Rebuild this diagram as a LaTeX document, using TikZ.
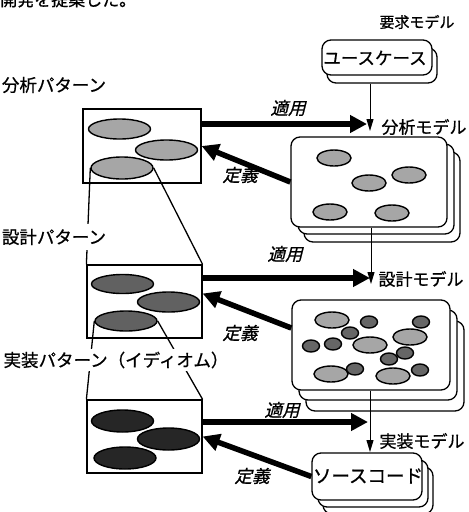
\documentclass[tikz,border=0pt]{standalone}
\usepackage{fontspec}
\newfontfamily\jp[FakeBold=0.8]{Noto Sans CJK JP}
\newfontfamily\jpit[FakeSlant=0.25,FakeBold=0.8]{Noto Sans CJK JP}
\usetikzlibrary{shapes.geometric,arrows.meta,calc}
\begin{document}
\begin{tikzpicture}[x=1pt,y=-1pt,
  pbox/.style={draw, line width=1.2pt, fill=white, inner sep=0pt},
  mbox/.style={draw, fill=white, rounded corners=9pt, line width=1.3pt, inner sep=0pt},
  ov/.style={ellipse, draw, line width=1.4pt, inner sep=0pt},
  pov/.style={ov, minimum width=62pt, minimum height=20pt},
  lt/.style={ov, fill=black!35, minimum width=34pt, minimum height=16pt},
  sm/.style={ov, fill=black!60, minimum width=17pt, minimum height=12pt},
  lbl/.style={font=\jp\fontsize{17}{17}\selectfont, inner sep=1pt},
  plbl/.style={font=\jp\fontsize{17.5}{17.5}\selectfont, fill=white, inner sep=5pt},
  itl/.style={font=\jpit\fontsize{17.5}{17.5}\selectfont, inner sep=1pt},
  fat/.style={line width=5.5pt, -{Triangle[length=17pt,width=17pt]}},
  thinarr/.style={line width=1pt, -{Triangle[length=12pt,width=7pt]}},
  zline/.style={line width=1.3pt}]
\useasboundingbox (0,0) rectangle (469,512);
\clip (0,0) rectangle (469,512);

% top text (cut off at the top edge, as in the reference)
\node[font=\jp\fontsize{17}{17}\selectfont, inner sep=0pt, anchor=base west] (top) at (0,6) {開発を提案した。};

% ---------- right column: models ----------
\node[lbl, font=\jp\fontsize{15}{15}\selectfont] (req) at (417,22) {要求モデル};
\node[mbox, minimum width=110pt, minimum height=35pt] (uc2) at (382,65.5) {};
\node[mbox, minimum width=110pt, minimum height=35pt] (uc) at (377,57.5) {};
\node[lbl, font=\jp\fontsize{17.5}{17.5}\selectfont] (uct) at (375,58) {ユースケース};

\node[lbl] (aml) at (424,127) {分析モデル};
\node[mbox, minimum width=156pt, minimum height=90pt] (am3) at (382,197) {};
\node[mbox, minimum width=156pt, minimum height=90pt] (am2) at (376,189) {};
\node[mbox, minimum width=156pt, minimum height=90pt] (am) at (369,182) {};
\node[lt] (a1) at (334,158) {};
\node[lt] (a2) at (369,183) {};
\node[lt] (a3) at (409,175) {};
\node[lt] (a4) at (330,212) {};
\node[lt] (a5) at (392,213) {};

\node[lbl] (dml) at (421,279) {設計モデル};
\node[mbox, minimum width=158pt, minimum height=90pt] (dm3) at (385,366) {};
\node[mbox, minimum width=158pt, minimum height=90pt] (dm2) at (378,355) {};
\node[mbox, minimum width=158pt, minimum height=90pt] (dm) at (371,345) {};
\node[lt] (d1) at (332,320) {};
\node[lt] (d2) at (410,337) {};
\node[lt] (d3) at (370,345) {};
\node[lt] (d4) at (331,374) {};
\node[lt] (d5) at (393,376) {};
\node[sm] (s1) at (369,322) {};
\node[sm] (s2) at (421,322) {};
\node[sm] (s3) at (350,333) {};
\node[sm] (s4) at (311,346) {};
\node[sm] (s5) at (333,344) {};
\node[sm] (s6) at (405,353) {};
\node[sm] (s7) at (389,359) {};
\node[sm] (s8) at (355,369) {};
\node[sm] (s9) at (420,370) {};

\node[lbl] (iml) at (422,441) {実装モデル};
\node[mbox, minimum width=110pt, minimum height=47pt] (sc3) at (378,490.5) {};
\node[mbox, minimum width=110pt, minimum height=47pt] (sc2) at (373,483.5) {};
\node[mbox, minimum width=110pt, minimum height=47pt] (sc) at (367,476.5) {};
\node[lbl, font=\jp\fontsize{18.5}{18.5}\selectfont] (sct) at (368,476) {ソースコード};

% vertical thin arrows
\coordinate (t1) at (370,131);
\coordinate (t2) at (371,284);
\coordinate (t3) at (370,452);
\draw[thinarr] (uc2.south -| t1) -- (t1);
\draw[thinarr] (am.south -| t2) -- (t2);
\draw[thinarr] (dm.south -| t3) -- (t3);

% ---------- left column: patterns ----------
\node[pbox, minimum width=118pt, minimum height=74pt] (ap) at (142,146) {};
\node[pov, fill=black!35] (p1) at (119.5,129) {};
\node[pov, fill=black!35] (p2) at (166.5,150) {};
\node[pov, fill=black!35, minimum height=22pt] (p3) at (122,168) {};

\node[pbox, minimum width=115pt, minimum height=73pt] (dp) at (144.5,301.5) {};
\node[pov, fill=black!62, minimum height=19pt] (q1) at (122.5,284) {};
\node[pov, fill=black!62] (q2) at (168.5,302) {};
\node[pov, fill=black!62] (q3) at (126,321) {};

\node[pbox, minimum width=115pt, minimum height=73pt] (ip) at (144.5,436.5) {};
\node[pov, fill=black!85, minimum height=22pt] (r1) at (122.5,421) {};
\node[pov, fill=black!85, minimum height=22pt] (r2) at (168.5,439) {};
\node[pov, fill=black!85, minimum height=22pt] (r3) at (125,458) {};

% zoom lines
\draw[zline] (p3.west) -- (dp.north west);
\draw[zline] (p3.east) -- (dp.north east);
\draw[zline] (q3.west) -- (ip.north west);
\draw[zline] (q3.east) -- (ip.north east);

\node[plbl] (apl) at (54,85) {分析パターン};
\node[plbl] (dpl) at (54,237) {設計パターン};
\node[plbl, inner sep=3pt] (ipl) at (116,360) {実装パターン（イディオム）};

% ---------- arrows ----------
\coordinate (f1) at (367,124);
\coordinate (f2) at (370,278);
\coordinate (f3) at (368,422);
\draw[fat] (ap.east |- f1) -- (f1);
\draw[fat] (dp.east |- f2) -- (f2);
\draw[fat] (ip.east |- f3) -- (f3);
\node[itl] (ap1) at (288,108) {適用};
\node[itl] (ap2) at (285,254) {適用};
\node[itl] (ap3) at (282,410) {適用};

\draw[fat] (am.west) -- (ap.east);
\draw[fat] ([yshift=17pt]dm.west) -- ([yshift=8pt]dp.east);
\draw[fat] (sc.west) -- (ip.east);
\node[itl] (de1) at (240,175) {定義};
\node[itl] (de2) at (240,333) {定義};
\node[itl] (de3) at (252,476) {定義};
\end{tikzpicture}
\end{document}
